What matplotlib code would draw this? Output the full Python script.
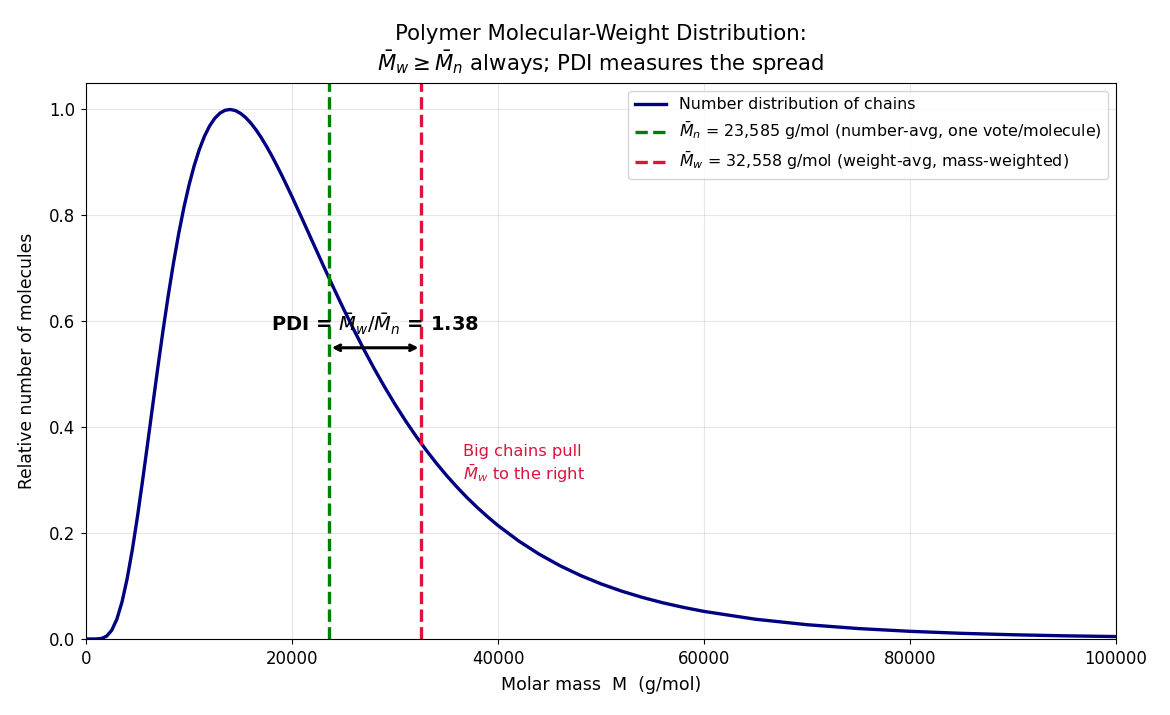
import matplotlib
matplotlib.use("Agg")
import matplotlib.pyplot as plt

# Molar mass sample points (g/mol) and relative number of molecules
molar_mass = [0, 500, 1000, 1500, 2000, 2500, 3000, 3500, 4000, 4500, 5000, 5500,
              6000, 6500, 7000, 7500, 8000, 8500, 9000, 9500, 10000, 10500, 11000,
              11500, 12000, 12500, 13000, 13500, 14000, 14500, 15000, 15500, 16000,
              16500, 17000, 17500, 18000, 18500, 19000, 19500, 20000, 21000, 22000,
              23000, 24000, 25000, 26000, 27000, 28000, 29000, 30000, 31000, 32000,
              33000, 34000, 35000, 36000, 37000, 38000, 39000, 40000, 42000, 44000,
              46000, 48000, 50000, 52000, 54000, 56000, 58000, 60000, 65000, 70000,
              75000, 80000, 85000, 90000, 95000, 100000]
rel_number = [0.0, 0.0, 0.0001, 0.001, 0.0053, 0.0165, 0.0376, 0.0702, 0.1144, 0.1689,
              0.2316, 0.3001, 0.3718, 0.4446, 0.5164, 0.5855, 0.6506, 0.7108, 0.7656,
              0.8145, 0.8571, 0.8937, 0.9244, 0.9494, 0.9689, 0.9833, 0.9930, 0.9985,
              1.0000, 0.9980, 0.9927, 0.9848, 0.9743, 0.9617, 0.9473, 0.9312, 0.9139,
              0.8954, 0.8760, 0.8559, 0.8353, 0.7929, 0.7498, 0.7069, 0.6646, 0.6236,
              0.5840, 0.5460, 0.5098, 0.4756, 0.4432, 0.4127, 0.3841, 0.3573, 0.3323,
              0.3089, 0.2872, 0.2669, 0.2481, 0.2306, 0.2143, 0.1852, 0.1601, 0.1386,
              0.1200, 0.1041, 0.0904, 0.0786, 0.0684, 0.0597, 0.0521, 0.0373, 0.0270,
              0.0197, 0.0145, 0.0107, 0.0080, 0.0060, 0.0046]

Mn = 23585
Mw = 32558
PDI = 1.38

fig = plt.figure(figsize=(11.7, 7.15), dpi=100)
ax = fig.add_axes([0.0735, 0.1063, 0.8804, 0.7776])

ax.plot(molar_mass, rel_number, color="navy", lw=2.4, label="Number distribution of chains")
ax.axvline(Mn, color="green", ls="--", lw=2.4,
           label=r"$\bar{M}_n$ = 23,585 g/mol (number-avg, one vote/molecule)")
ax.axvline(Mw, color="crimson", ls="--", lw=2.4,
           label=r"$\bar{M}_w$ = 32,558 g/mol (weight-avg, mass-weighted)")

ax.annotate("", xy=(Mw, 0.55), xytext=(Mn, 0.55),
            arrowprops=dict(arrowstyle="<->", color="black", lw=2.2))
ax.text((Mn + Mw) / 2, 0.594, r"PDI = $\bar{M}_w/\bar{M}_n$ = 1.38", ha="center", va="center",
        fontsize=14, fontweight="bold")
ax.text(Mw + 4000, 0.30, "Big chains pull\n" + r"$\bar{M}_w$ to the right",
        color="crimson", fontsize=11.7, ha="left", va="baseline")

ax.set_xlim(0, 100000)
ax.set_ylim(0, 1.05)
ax.grid(True, alpha=0.3)
ax.set_xlabel("Molar mass  M  (g/mol)", fontsize=12.5, labelpad=6)
ax.set_ylabel("Relative number of molecules", fontsize=12.3, labelpad=9)
ax.tick_params(labelsize=11.9, pad=4.5)
ax.set_title("Polymer Molecular-Weight Distribution:\n"
             r"$\bar{M}_w \geq \bar{M}_n$ always; PDI measures the spread", fontsize=15.3, pad=9)
ax.legend(loc="upper right", fontsize=11.4)

fig.savefig("out.png", dpi=100)
